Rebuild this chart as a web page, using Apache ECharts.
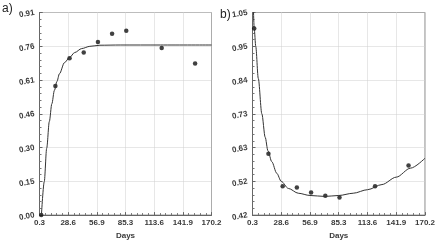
<!DOCTYPE html>
<html>
<head>
<meta charset="utf-8">
<script src="https://cdn.jsdelivr.net/npm/echarts@6/dist/echarts.min.js"></script>
<style>
html, body { margin: 0; padding: 0; background: #fff; }
#chart { width: 438px; height: 245px; }
</style>
</head>
<body>
<div id="chart"></div>
<script>
// measured points (days, value)
var days = [2, 16, 30, 44, 58, 72, 86, 121, 154];
var valuesA = [0.0, 0.580, 0.704, 0.730, 0.778, 0.814, 0.828, 0.750, 0.681];
var valuesB = [1.000, 0.611, 0.510, 0.506, 0.490, 0.480, 0.475, 0.510, 0.574];

// fitted curves
var curveDaysA = [2.2, 5, 7.4, 10, 12.5, 15, 17.5, 20, 25, 30, 35, 42, 50, 60, 80, 120, 170.2];
var curveA = [0, 0.15, 0.30, 0.42, 0.50, 0.56, 0.60, 0.635, 0.685, 0.708, 0.730, 0.748, 0.758, 0.763, 0.764, 0.764, 0.764];
var curveDaysB = [1.2, 2, 3.5, 6, 9.5, 12.8, 15.5, 19.3, 24.2, 28.6, 35.6, 45.4, 56.9, 71.6, 85.3, 99.5, 113.6, 127.8, 141.9, 156, 170.2];
var curveB = [1.06, 1.00, 0.945, 0.845, 0.735, 0.662, 0.620, 0.586, 0.550, 0.525, 0.503, 0.488, 0.481, 0.478, 0.481, 0.488, 0.499, 0.515, 0.538, 0.566, 0.597];

// tick labels
var xTicks = ['0.3', '28.6', '56.9', '85.3', '113.6', '141.9', '170.2'];
var yTicksA = ['0.00', '0.15', '0.30', '0.46', '0.61', '0.76', '0.91'];
var yTicksB = ['0.42', '0.52', '0.63', '0.73', '0.84', '0.95', '1.05'];

var X0 = 0.3, XSPAN = 169.9, YA_MAX = 0.91, YB0 = 0.42, YB_SPAN = 0.63;

var chart = echarts.init(document.getElementById('chart'));

// axes start at 0 so the ticks line up; shift values back by the offsets
var pairs = function (xs, ys, dy) {
    return xs.map(function (x, i) {
        return [x - X0, ys[i] - dy];
    });
};

var labelFont = {fontSize: 8, fontWeight: 'bold', color: '#3a3a3a', fontFamily: 'Liberation Sans, Arial, sans-serif'};
var panelFont = {fontSize: 12, fontWeight: 'normal', color: '#222', fontFamily: 'Liberation Sans, Arial, sans-serif'};

var axisX = function (idx) {
    return {
        type: 'value', gridIndex: idx, min: 0, max: XSPAN, interval: XSPAN / 6,
        name: 'Days', nameLocation: 'middle', nameGap: 15,
        nameTextStyle: labelFont,
        axisLine: {lineStyle: {color: '#666', width: 1}},
        axisTick: {inside: true, length: 3, lineStyle: {color: '#666'}},
        minorTick: {show: true, splitNumber: 5, length: 2, lineStyle: {color: '#777'}},
        splitLine: {show: true, lineStyle: {color: '#cfcfcf', type: 'dotted'}},
        axisLabel: Object.assign({margin: 4, formatter: function (v) {
            return xTicks[Math.round(v / (XSPAN / 6))];
        }}, labelFont)
    };
};

var axisY = function (idx, span, ticks) {
    return {
        type: 'value', gridIndex: idx, min: 0, max: span, interval: span / 6,
        axisLine: {show: true, lineStyle: {color: '#666', width: 1}},
        axisTick: {show: true, inside: true, length: 3, lineStyle: {color: '#666'}},
        minorTick: {show: true, splitNumber: 5, length: 2, lineStyle: {color: '#777'}},
        splitLine: {show: true, lineStyle: {color: '#cfcfcf', type: 'dotted'}},
        axisLabel: Object.assign({margin: 5, rotate: 10, formatter: function (v) {
            return ticks[Math.round(v / (span / 6))];
        }}, labelFont)
    };
};

var option = {
    animation: false,
    backgroundColor: '#fff',
    title: [
        {text: 'a)', left: 2, top: 3, padding: 0, textStyle: panelFont},
        {text: 'b)', left: 220, top: 9, padding: 0, textStyle: panelFont}
    ],
    grid: [
        {left: 39.5, top: 12.5, width: 172, height: 204.5, show: true, borderColor: '#888', borderWidth: 1},
        {left: 252.5, top: 12.5, width: 173, height: 204.5, show: true, borderColor: '#888', borderWidth: 1}
    ],
    xAxis: [axisX(0), axisX(1)],
    yAxis: [axisY(0, YA_MAX, yTicksA), axisY(1, YB_SPAN, yTicksB)],
    series: [{
        type: 'line', xAxisIndex: 0, yAxisIndex: 0,
        data: pairs(curveDaysA, curveA, 0),
        smooth: 0.3, smoothMonotone: 'x', showSymbol: false, clip: true,
        lineStyle: {color: '#333', width: 1}
    }, {
        type: 'scatter', xAxisIndex: 0, yAxisIndex: 0,
        data: pairs(days, valuesA, 0),
        symbolSize: 4.5, itemStyle: {color: '#111'}
    }, {
        type: 'line', xAxisIndex: 1, yAxisIndex: 1,
        data: pairs(curveDaysB, curveB, YB0),
        smooth: 0.3, smoothMonotone: 'x', showSymbol: false, clip: true,
        lineStyle: {color: '#333', width: 1}
    }, {
        type: 'scatter', xAxisIndex: 1, yAxisIndex: 1,
        data: pairs(days, valuesB, YB0),
        symbolSize: 4.5, itemStyle: {color: '#111'}
    }]
};
chart.setOption(option);
</script>
</body>
</html>
